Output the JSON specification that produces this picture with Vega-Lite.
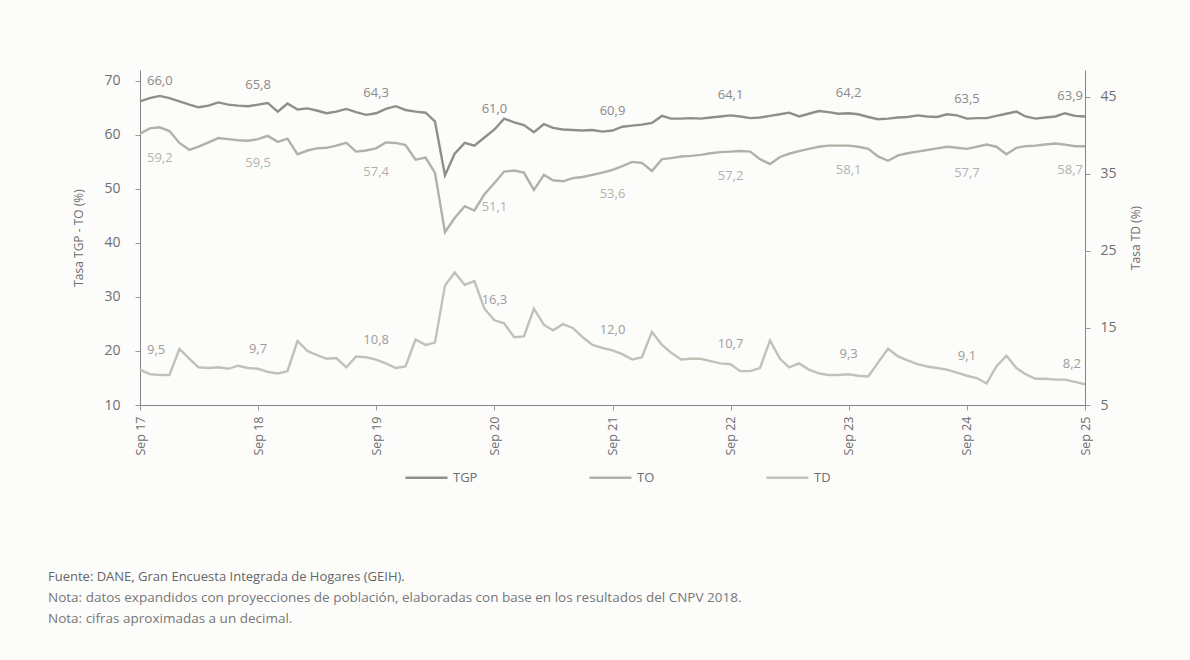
{
 "$schema": "https://vega.github.io/schema/vega-lite/v6.json",
 "width": 945,
 "height": 335,
 "autosize": {"type": "none"},
 "padding": {"left": 140, "top": 70, "right": 105, "bottom": 255},
 "background": "#fcfcfb",
 "config": {
  "font": "Open Sans",
  "view": {"stroke": null},
  "axis": {"domainColor": "#858585", "tickColor": "#999999", "labelColor": "#6e6e6e", "titleColor": "#6e6e6e", "grid": false, "titleFontWeight": "normal", "labelFont": "Open Sans", "titleFont": "Open Sans"},
  "legend": {"labelFont": "Open Sans"}
 },
 "title": {
  "text": "Fuente: DANE, Gran Encuesta Integrada de Hogares (GEIH).",
  "subtitle": ["Nota: datos expandidos con proyecciones de población, elaboradas con base en los resultados del CNPV 2018.", "Nota: cifras aproximadas a un decimal."],
  "orient": "bottom",
  "anchor": "start",
  "frame": "group",
  "dx": -92,
  "offset": 86,
  "fontSize": 13,
  "fontWeight": "normal",
  "color": "#666666",
  "subtitleFontSize": 13.5,
  "subtitleColor": "#777777",
  "subtitlePadding": 7,
  "subtitleLineHeight": 21
 },
 "data": {"values": [
  {"f": "2017-09-01", "TGP": 66.2, "TO": 60.2, "TD": 9.6, "eTGP": "66,0", "eTO": "59,2", "eTD": "9,5"},
  {"f": "2017-10-01", "TGP": 66.8, "TO": 61.2, "TD": 9.0},
  {"f": "2017-11-01", "TGP": 67.2, "TO": 61.4, "TD": 8.9},
  {"f": "2017-12-01", "TGP": 66.8, "TO": 60.7, "TD": 8.9},
  {"f": "2018-01-01", "TGP": 66.2, "TO": 58.5, "TD": 12.3},
  {"f": "2018-02-01", "TGP": 65.6, "TO": 57.2, "TD": 11.0},
  {"f": "2018-03-01", "TGP": 65.1, "TO": 57.8, "TD": 9.9},
  {"f": "2018-04-01", "TGP": 65.4, "TO": 58.6, "TD": 9.8},
  {"f": "2018-05-01", "TGP": 66.0, "TO": 59.4, "TD": 9.9},
  {"f": "2018-06-01", "TGP": 65.6, "TO": 59.2, "TD": 9.7},
  {"f": "2018-07-01", "TGP": 65.4, "TO": 59.0, "TD": 10.1},
  {"f": "2018-08-01", "TGP": 65.3, "TO": 58.9, "TD": 9.8},
  {"f": "2018-09-01", "TGP": 65.6, "TO": 59.2, "TD": 9.7, "eTGP": "65,8", "eTO": "59,5", "eTD": "9,7"},
  {"f": "2018-10-01", "TGP": 65.9, "TO": 59.8, "TD": 9.3},
  {"f": "2018-11-01", "TGP": 64.3, "TO": 58.7, "TD": 9.1},
  {"f": "2018-12-01", "TGP": 65.8, "TO": 59.3, "TD": 9.4},
  {"f": "2019-01-01", "TGP": 64.7, "TO": 56.4, "TD": 13.3},
  {"f": "2019-02-01", "TGP": 64.9, "TO": 57.1, "TD": 12.0},
  {"f": "2019-03-01", "TGP": 64.5, "TO": 57.5, "TD": 11.5},
  {"f": "2019-04-01", "TGP": 64.0, "TO": 57.6, "TD": 11.0},
  {"f": "2019-05-01", "TGP": 64.3, "TO": 58.0, "TD": 11.1},
  {"f": "2019-06-01", "TGP": 64.8, "TO": 58.5, "TD": 9.9},
  {"f": "2019-07-01", "TGP": 64.2, "TO": 56.9, "TD": 11.3},
  {"f": "2019-08-01", "TGP": 63.7, "TO": 57.1, "TD": 11.2},
  {"f": "2019-09-01", "TGP": 64.0, "TO": 57.5, "TD": 10.9, "eTGP": "64,3", "eTO": "57,4", "eTD": "10,8"},
  {"f": "2019-10-01", "TGP": 64.8, "TO": 58.6, "TD": 10.4},
  {"f": "2019-11-01", "TGP": 65.3, "TO": 58.5, "TD": 9.8},
  {"f": "2019-12-01", "TGP": 64.6, "TO": 58.1, "TD": 10.0},
  {"f": "2020-01-01", "TGP": 64.3, "TO": 55.4, "TD": 13.5},
  {"f": "2020-02-01", "TGP": 64.1, "TO": 55.8, "TD": 12.8},
  {"f": "2020-03-01", "TGP": 62.5, "TO": 53.0, "TD": 13.1},
  {"f": "2020-04-01", "TGP": 52.5, "TO": 42.0, "TD": 20.5},
  {"f": "2020-05-01", "TGP": 56.5, "TO": 44.6, "TD": 22.2},
  {"f": "2020-06-01", "TGP": 58.5, "TO": 46.8, "TD": 20.6},
  {"f": "2020-07-01", "TGP": 58.0, "TO": 46.0, "TD": 21.1},
  {"f": "2020-08-01", "TGP": 59.5, "TO": 49.0, "TD": 17.5},
  {"f": "2020-09-01", "TGP": 61.0, "TO": 51.1, "TD": 16.0, "eTGP": "61,0", "eTO": "51,1", "eTD": "16,3"},
  {"f": "2020-10-01", "TGP": 63.0, "TO": 53.2, "TD": 15.6},
  {"f": "2020-11-01", "TGP": 62.3, "TO": 53.4, "TD": 13.8},
  {"f": "2020-12-01", "TGP": 61.8, "TO": 53.0, "TD": 13.9},
  {"f": "2021-01-01", "TGP": 60.5, "TO": 49.8, "TD": 17.5},
  {"f": "2021-02-01", "TGP": 62.0, "TO": 52.6, "TD": 15.4},
  {"f": "2021-03-01", "TGP": 61.3, "TO": 51.6, "TD": 14.7},
  {"f": "2021-04-01", "TGP": 61.0, "TO": 51.4, "TD": 15.5},
  {"f": "2021-05-01", "TGP": 60.9, "TO": 52.0, "TD": 15.0},
  {"f": "2021-06-01", "TGP": 60.8, "TO": 52.2, "TD": 13.8},
  {"f": "2021-07-01", "TGP": 60.9, "TO": 52.6, "TD": 12.8},
  {"f": "2021-08-01", "TGP": 60.6, "TO": 53.0, "TD": 12.4},
  {"f": "2021-09-01", "TGP": 60.8, "TO": 53.5, "TD": 12.1, "eTGP": "60,9", "eTO": "53,6", "eTD": "12,0"},
  {"f": "2021-10-01", "TGP": 61.5, "TO": 54.2, "TD": 11.6},
  {"f": "2021-11-01", "TGP": 61.7, "TO": 55.0, "TD": 10.9},
  {"f": "2021-12-01", "TGP": 61.9, "TO": 54.8, "TD": 11.2},
  {"f": "2022-01-01", "TGP": 62.2, "TO": 53.3, "TD": 14.5},
  {"f": "2022-02-01", "TGP": 63.5, "TO": 55.5, "TD": 12.8},
  {"f": "2022-03-01", "TGP": 63.0, "TO": 55.7, "TD": 11.8},
  {"f": "2022-04-01", "TGP": 63.0, "TO": 56.0, "TD": 10.9},
  {"f": "2022-05-01", "TGP": 63.1, "TO": 56.1, "TD": 11.0},
  {"f": "2022-06-01", "TGP": 63.0, "TO": 56.3, "TD": 11.0},
  {"f": "2022-07-01", "TGP": 63.2, "TO": 56.6, "TD": 10.7},
  {"f": "2022-08-01", "TGP": 63.4, "TO": 56.8, "TD": 10.4},
  {"f": "2022-09-01", "TGP": 63.6, "TO": 56.9, "TD": 10.3, "eTGP": "64,1", "eTO": "57,2", "eTD": "10,7"},
  {"f": "2022-10-01", "TGP": 63.4, "TO": 57.0, "TD": 9.4},
  {"f": "2022-11-01", "TGP": 63.1, "TO": 56.9, "TD": 9.4},
  {"f": "2022-12-01", "TGP": 63.2, "TO": 55.5, "TD": 9.8},
  {"f": "2023-01-01", "TGP": 63.5, "TO": 54.6, "TD": 13.4},
  {"f": "2023-02-01", "TGP": 63.8, "TO": 55.9, "TD": 11.0},
  {"f": "2023-03-01", "TGP": 64.1, "TO": 56.5, "TD": 9.9},
  {"f": "2023-04-01", "TGP": 63.4, "TO": 57.0, "TD": 10.4},
  {"f": "2023-05-01", "TGP": 63.9, "TO": 57.4, "TD": 9.6},
  {"f": "2023-06-01", "TGP": 64.4, "TO": 57.8, "TD": 9.1},
  {"f": "2023-07-01", "TGP": 64.2, "TO": 58.0, "TD": 8.9},
  {"f": "2023-08-01", "TGP": 63.9, "TO": 58.0, "TD": 8.9},
  {"f": "2023-09-01", "TGP": 64.0, "TO": 58.0, "TD": 9.0, "eTGP": "64,2", "eTO": "58,1", "eTD": "9,3"},
  {"f": "2023-10-01", "TGP": 63.8, "TO": 57.8, "TD": 8.8},
  {"f": "2023-11-01", "TGP": 63.3, "TO": 57.4, "TD": 8.7},
  {"f": "2023-12-01", "TGP": 62.9, "TO": 56.0, "TD": 10.5},
  {"f": "2024-01-01", "TGP": 63.0, "TO": 55.2, "TD": 12.3},
  {"f": "2024-02-01", "TGP": 63.2, "TO": 56.2, "TD": 11.3},
  {"f": "2024-03-01", "TGP": 63.3, "TO": 56.6, "TD": 10.8},
  {"f": "2024-04-01", "TGP": 63.6, "TO": 56.9, "TD": 10.3},
  {"f": "2024-05-01", "TGP": 63.4, "TO": 57.2, "TD": 10.0},
  {"f": "2024-06-01", "TGP": 63.3, "TO": 57.5, "TD": 9.8},
  {"f": "2024-07-01", "TGP": 63.8, "TO": 57.8, "TD": 9.6},
  {"f": "2024-08-01", "TGP": 63.6, "TO": 57.6, "TD": 9.2},
  {"f": "2024-09-01", "TGP": 63.0, "TO": 57.4, "TD": 8.8, "eTGP": "63,5", "eTO": "57,7", "eTD": "9,1"},
  {"f": "2024-10-01", "TGP": 63.1, "TO": 57.8, "TD": 8.5},
  {"f": "2024-11-01", "TGP": 63.1, "TO": 58.2, "TD": 7.8},
  {"f": "2024-12-01", "TGP": 63.5, "TO": 57.8, "TD": 10.0},
  {"f": "2025-01-01", "TGP": 63.9, "TO": 56.4, "TD": 11.4},
  {"f": "2025-02-01", "TGP": 64.3, "TO": 57.6, "TD": 9.8},
  {"f": "2025-03-01", "TGP": 63.4, "TO": 57.9, "TD": 9.0},
  {"f": "2025-04-01", "TGP": 63.0, "TO": 58.0, "TD": 8.4},
  {"f": "2025-05-01", "TGP": 63.2, "TO": 58.2, "TD": 8.4},
  {"f": "2025-06-01", "TGP": 63.4, "TO": 58.4, "TD": 8.3},
  {"f": "2025-07-01", "TGP": 64.0, "TO": 58.2, "TD": 8.3},
  {"f": "2025-08-01", "TGP": 63.5, "TO": 57.9, "TD": 8.0},
  {"f": "2025-09-01", "TGP": 63.4, "TO": 57.9, "TD": 7.7, "eTGP": "63,9", "eTO": "58,7", "eTD": "8,2"}
 ]},
 "encoding": {
  "x": {
   "field": "f",
   "type": "temporal",
   "scale": {"type": "utc", "nice": false, "domain": [{"year": 2017, "month": 9, "date": 1, "utc": true}, {"year": 2025, "month": 9, "date": 1, "utc": true}]},
   "axis": {
    "title": null,
    "values": [
     {"year": 2017, "month": 9, "date": 1, "utc": true},
     {"year": 2018, "month": 9, "date": 1, "utc": true},
     {"year": 2019, "month": 9, "date": 1, "utc": true},
     {"year": 2020, "month": 9, "date": 1, "utc": true},
     {"year": 2021, "month": 9, "date": 1, "utc": true},
     {"year": 2022, "month": 9, "date": 1, "utc": true},
     {"year": 2023, "month": 9, "date": 1, "utc": true},
     {"year": 2024, "month": 9, "date": 1, "utc": true},
     {"year": 2025, "month": 9, "date": 1, "utc": true}
    ],
    "labelExpr": "utcFormat(datum.value, '%b %y')",
    "labelAngle": 270,
    "labelFontSize": 12.5,
    "tickSize": 5,
    "labelPadding": 6,
    "domainWidth": 1.2
   }
  }
 },
 "layer": [
  {
   "encoding": {
    "y": {
     "field": "valor",
     "type": "quantitative",
     "scale": {"domain": [10, 72], "nice": false, "zero": false},
     "axis": {"values": [10, 20, 30, 40, 50, 60, 70], "title": "Tasa TGP - TO (%)", "titleFontSize": 12, "labelFontSize": 14, "tickSize": 5, "labelPadding": 15, "titlePadding": 18}
    }
   },
   "layer": [
    {
     "transform": [{"fold": ["TGP", "TO"], "as": ["serie", "valor"]}],
     "mark": {"type": "line", "strokeWidth": 2.4},
     "encoding": {
      "color": {
       "field": "serie",
       "type": "nominal",
       "scale": {"domain": ["TGP", "TO", "TD"], "range": ["#8e8e8b", "#b1b1a9", "#c1c1ba"]},
       "legend": {"title": null, "orient": "none", "legendX": 264, "legendY": 385, "direction": "horizontal", "symbolType": "stroke", "symbolSize": 1764, "symbolStrokeWidth": 2.4, "labelFontSize": 13, "labelColor": "#6e6e6e", "columnPadding": 106, "labelOffset": 4}
      }
     }
    },
    {
     "transform": [{"filter": "datum.eTGP != null"}, {"fold": ["TGP"], "as": ["serie", "valor"]}],
     "mark": {"type": "text", "dy": -20, "fontSize": 13, "color": "#8a8a88", "align": {"expr": "utcyear(datum.f) == 2017 ? 'left' : (utcyear(datum.f) == 2025 ? 'right' : 'center')"}, "dx": {"expr": "utcyear(datum.f) == 2017 ? 7 : (utcyear(datum.f) == 2025 ? -2 : 0)"}},
     "encoding": {"text": {"field": "eTGP"}}
    },
    {
     "transform": [{"filter": "datum.eTO != null"}, {"fold": ["TO"], "as": ["serie", "valor"]}],
     "mark": {"type": "text", "dy": 24, "fontSize": 13, "color": "#b3b3ad", "align": {"expr": "utcyear(datum.f) == 2017 ? 'left' : (utcyear(datum.f) == 2025 ? 'right' : 'center')"}, "dx": {"expr": "utcyear(datum.f) == 2017 ? 7 : (utcyear(datum.f) == 2025 ? -2 : 0)"}},
     "encoding": {"text": {"field": "eTO"}}
    }
   ]
  },
  {
   "encoding": {
    "y": {
     "field": "valor",
     "type": "quantitative",
     "scale": {"domain": [5, 48.5], "nice": false, "zero": false},
     "axis": {"orient": "right", "values": [5, 15, 25, 35, 45], "title": "Tasa TD (%)", "titleAngle": 270, "titleFontSize": 12, "labelFontSize": 14, "tickSize": 5, "labelPadding": 10, "titlePadding": 26}
    }
   },
   "layer": [
    {
     "transform": [{"fold": ["TD"], "as": ["serie", "valor"]}],
     "mark": {"type": "line", "strokeWidth": 2.4},
     "encoding": {"color": {"field": "serie", "type": "nominal"}}
    },
    {
     "transform": [{"filter": "datum.eTD != null"}, {"fold": ["TD"], "as": ["serie", "valor"]}],
     "mark": {"type": "text", "dy": -20, "fontSize": 13, "color": "#9d9d9a", "align": {"expr": "utcyear(datum.f) == 2017 ? 'left' : (utcyear(datum.f) == 2025 ? 'right' : 'center')"}, "dx": {"expr": "utcyear(datum.f) == 2017 ? 7 : (utcyear(datum.f) == 2025 ? -4 : 0)"}},
     "encoding": {"text": {"field": "eTD"}}
    }
   ]
  }
 ],
 "resolve": {"scale": {"y": "independent"}}
}
